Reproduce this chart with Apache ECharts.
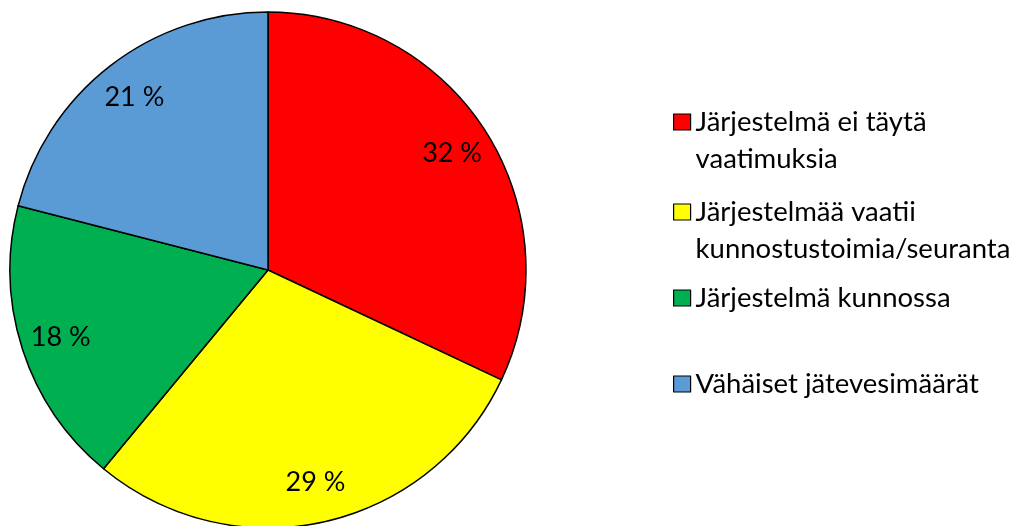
<!DOCTYPE html>
<html>
<head>
<meta charset="utf-8">
<script src="https://cdn.jsdelivr.net/npm/echarts@6/dist/echarts.min.js"></script>
<style>
  html, body { margin: 0; padding: 0; background: #fff; }
  #main { width: 1014px; height: 526px; }
</style>
</head>
<body>
<div id="main"></div>
<script>
// luokat ja osuudet (%)
const categories = [
  "Järjestelmä ei täytä vaatimuksia",
  "Järjestelmää vaatii kunnostustoimia/seuranta",
  "Järjestelmä kunnossa",
  "Vähäiset jätevesimäärät"
];
const shares = [32, 29, 18, 21];
const colors = ["#FF0000", "#FFFF00", "#00B050", "#5B9BD5"];
const legendLabels = [
  "Järjestelmä ei täytä\nvaatimuksia",
  "Järjestelmää vaatii\nkunnostustoimia/seuranta",
  "Järjestelmä kunnossa",
  "Vähäiset jätevesimäärät"
];
const legendTops = [66.5, 156.5, 279.5, 365.5];

const font = "Lato, 'Open Sans', sans-serif";
const pieData = categories.map((name, i) => ({
  name: name,
  value: shares[i],
  itemStyle: { color: colors[i] }
}));

// yksi selite per rivi, jotta välit saadaan kuten mallissa
const legends = categories.map((name, i) => {
  let text = legendLabels[i];
  // tyhjä rivi alkuun: merkki asettuu ensimmäisen rivin kohdalle
  if (text.indexOf("\n") >= 0) text = "\n" + text;
  return {
    orient: "vertical",
    left: 673,
    top: legendTops[i],
    padding: 0,
    data: [name],
    icon: "rect",
    itemWidth: 17,
    itemHeight: 16,
    itemStyle: { borderColor: "#000", borderWidth: 1.2 },
    formatter: () => text,
    selectedMode: false,
    textStyle: {
      fontFamily: font,
      fontSize: 27.5,
      color: "#000",
      lineHeight: 37
    }
  };
});

const myChart = echarts.init(document.getElementById("main"));
myChart.setOption({
  animation: false,
  legend: legends,
  series: [
    {
      type: "pie",
      center: [268, 270],
      radius: [0, 258],
      startAngle: 90,
      clockwise: true,
      silent: true,
      label: { show: false },
      labelLine: { show: false },
      itemStyle: { borderColor: "#000", borderWidth: 1.5 },
      data: pieData
    },
    {
      // näkymätön apusarja, joka sijoittaa prosenttiluvut
      type: "pie",
      center: [268, 270],
      radius: [0, 430],
      startAngle: 90,
      clockwise: true,
      silent: true,
      itemStyle: { color: "rgba(0,0,0,0)", borderWidth: 0 },
      label: {
        show: true,
        position: "inside",
        formatter: p => p.value + " %",
        fontFamily: font,
        fontSize: 27,
        color: "#000"
      },
      labelLine: { show: false },
      data: pieData.map(d => ({ name: d.name, value: d.value, itemStyle: { color: "rgba(0,0,0,0)" } }))
    }
  ]
});
</script>
</body>
</html>
